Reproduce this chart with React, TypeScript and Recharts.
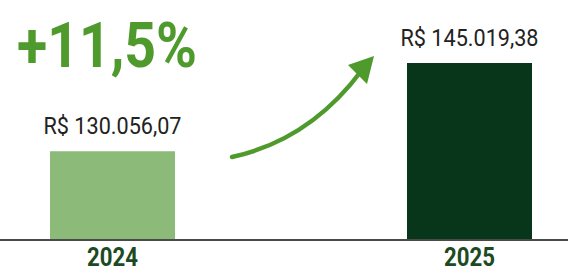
import React from "react";
import { BarChart, Bar, XAxis, YAxis, Cell, LabelList } from "recharts";

const categories = ["2024", "2025"];
const revenue = [130056.07, 145019.38];
const barColors = ["#8cba79", "#07361a"];
const headline = "+11,5%";

const data = categories.map((c, i) => ({ year: c, value: revenue[i] }));

const FONT = "Roboto, 'Noto Sans', sans-serif";

function formatBRL(v: number): string {
  const fixed = v.toFixed(2);
  const [intPart, dec] = fixed.split(".");
  const withDots = intPart.replace(/\B(?=(\d{3})+(?!\d))/g, ".");
  return `R$ ${withDots},${dec}`;
}

const ValueLabel = (props: any) => {
  const { x, y, width, value } = props;
  const len = 138;
  return (
    <text
      x={Number(x) + Number(width) / 2 - len / 2}
      y={Number(y) - 17}
      textAnchor="start"
      fontFamily={FONT}
      fontSize={24}
      fill="#222"
      textLength={len}
      lengthAdjust="spacingAndGlyphs"
    >
      {formatBRL(Number(value))}
    </text>
  );
};

const YearTick = (props: any) => {
  const { x, payload } = props;
  const len = 51;
  return (
    <text
      x={Number(x) - len / 2}
      y={266}
      textAnchor="start"
      fontFamily={FONT}
      fontWeight="bold"
      fontSize={26}
      fill="#1d4a1f"
      textLength={len}
      lengthAdjust="spacingAndGlyphs"
    >
      {payload.value}
    </text>
  );
};

export default function App() {
  return (
    <div style={{ position: "absolute", left: 0, top: 0, width: 568, height: 271, background: "#fff", overflow: "hidden" }}>
      <BarChart
        width={568}
        height={271}
        data={data}
        margin={{ top: 4, right: -80, left: -66, bottom: 0 }}
      >
        <YAxis hide domain={[115000, 155000]} allowDataOverflow />
        <XAxis
          dataKey="year"
          height={31}
          tickLine={false}
          axisLine={{ stroke: "#4a4a4a", strokeWidth: 2 }}
          tick={<YearTick />}
          interval={0}
        />
        <Bar dataKey="value" barSize={125} isAnimationActive={false}>
          {data.map((d, i) => (
            <Cell key={d.year} fill={barColors[i]} />
          ))}
          <LabelList dataKey="value" content={<ValueLabel />} />
        </Bar>
      </BarChart>
      <svg width={568} height={271} style={{ position: "absolute", left: 0, top: 0, pointerEvents: "none" }}>
        <text
          x={17}
          y={67}
          fontFamily={FONT}
          fontWeight="bold"
          fontSize={63}
          fill="#4f9a2c"
          textLength={180}
          lengthAdjust="spacingAndGlyphs"
        >
          {headline}
        </text>
        <path d="M232,157 Q310,140 362,70" fill="none" stroke="#4f9a2c" strokeWidth={4.5} strokeLinecap="round" />
        <polygon points="374,56 348,65 367,84" fill="#4f9a2c" />
      </svg>
    </div>
  );
}
